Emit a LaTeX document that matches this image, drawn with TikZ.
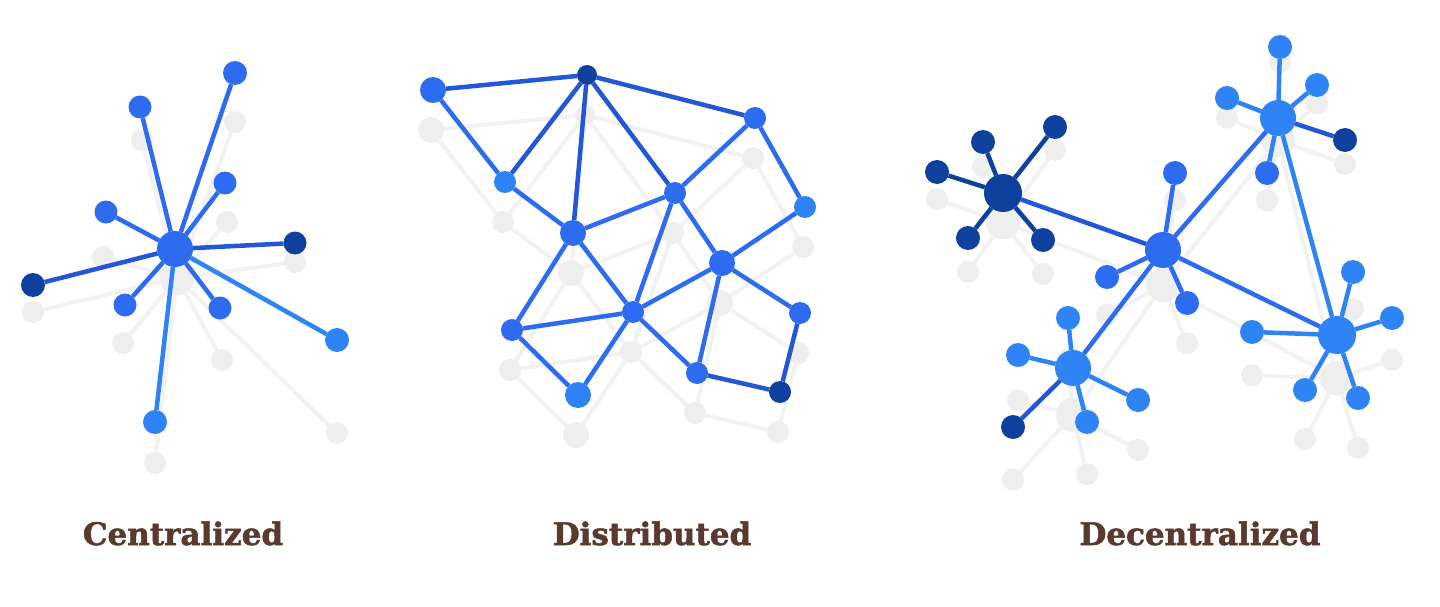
\documentclass[tikz,border=0pt]{standalone}
\usepackage{fontspec}
\newfontfamily\labelfont{DejaVu Serif}[BoldFeatures={FakeBold=1.6}]
\definecolor{bmain}{HTML}{2D6BF0}
\definecolor{blight}{HTML}{2F84F5}
\definecolor{bdark}{HTML}{0E419E}
\definecolor{emid}{HTML}{2258D6}
\definecolor{shnode}{HTML}{EEEEEE}
\definecolor{shline}{HTML}{F2F2F2}
\definecolor{txtbrown}{HTML}{5A3A2E}
\tikzset{
  dot/.style 2 args={circle, fill=#2, draw=none, minimum size=#1pt, inner sep=0pt, outer sep=0pt},
  sdot/.style={circle, fill=shnode, draw=none, minimum size=#1pt, inner sep=0pt, outer sep=0pt},
  edge/.style={line width=4.5pt, draw=#1},
  sedge/.style={line width=4pt, draw=shline},
  caption/.style={font=\labelfont\bfseries\fontsize{31}{34}\selectfont, text=txtbrown, anchor=base, inner sep=0pt}
}
\begin{document}
\begin{tikzpicture}[x=1pt,y=-1pt]
\useasboundingbox (0,0) rectangle (1440,607);
\fill[white] (0,0) rectangle (1440,607);

%% ================= CENTRALIZED =================
% shadows
\node[sdot=34] (sch) at (177,278) {};
\foreach \n/\x/\y/\d in {1/235/122/22, 2/142/140/22, 3/227/222/22, 4/103/257/22, 5/295/262/22,
  6/33/312/22, 7/123/343/22, 8/222/360/22, 9/337/433/22, 10/155/463/22}{
  \node[sdot=\d] (sc\n) at (\x,\y) {};
  \draw[sedge] (sch) -- (sc\n);
}
% main
\node[dot={36}{bmain}] (ch) at (175,249) {};
\foreach \n/\x/\y/\d/\c/\e in {1/235/73/24/bmain/bmain, 2/140/107/23/bmain/bmain, 3/225/183/23/bmain/bmain,
  4/106/212/23/bmain/bmain, 5/295/243/23/bdark/emid, 6/33/285/24/bdark/emid,
  7/125/305/23/bmain/bmain, 8/220/308/23/bmain/bmain, 9/337/340/24/blight/blight, 10/155/422/24/blight/blight}{
  \node[dot={\d}{\c}] (c\n) at (\x,\y) {};
  \draw[edge=\e] (ch) -- (c\n);
}
\node[caption] (lc) at (183,545) {Centralized};

%% ================= DISTRIBUTED =================
\foreach \n/\x/\y/\d in {A/433/90/26, B/587/75/20, C/755/118/22, D/505/182/22, E/675/193/22,
  F/805/207/22, G/573/233/26, H/722/263/26, I/800/313/22, J/633/312/22, K/512/330/22,
  L/697/373/22, M/578/395/26, N/780/392/22}{
  \node[sdot=\d] (s\n) at (\x-2,\y+40) {};
}
\foreach \a/\b in {A/B, A/D, B/D, B/G, B/E, B/C, C/E, C/F, D/G, G/E, G/K, G/J, E/J, E/H,
  F/H, H/J, H/L, H/I, J/K, J/L, K/M, M/J, I/N, L/N}{
  \draw[sedge] (s\a) -- (s\b);
}
\foreach \n/\x/\y/\d/\c in {A/433/90/26/bmain, B/587/75/20/bdark, C/755/118/22/bmain, D/505/182/22/blight,
  E/675/193/22/bmain, F/805/207/22/blight, G/573/233/26/bmain, H/722/263/26/bmain,
  I/800/313/22/bmain, J/633/312/22/bmain, K/512/330/22/bmain, L/697/373/22/bmain,
  M/578/395/26/blight, N/780/392/22/bdark}{
  \node[dot={\d}{\c}] (\n) at (\x,\y) {};
}
\foreach \a/\b/\e in {A/B/emid, A/D/bmain, B/D/emid, B/G/emid, B/E/emid, B/C/emid, C/E/bmain,
  C/F/bmain, D/G/bmain, G/E/bmain, G/K/bmain, G/J/bmain, E/J/bmain, E/H/bmain, F/H/bmain,
  H/J/bmain, H/L/bmain, H/I/bmain, J/K/bmain, J/L/bmain, K/M/bmain, M/J/bmain, I/N/emid, L/N/emid}{
  \draw[edge=\e] (\a) -- (\b);
}
\node[caption] (ld) at (652,545) {Distributed};

%% ================= DECENTRALIZED =================
% hubs: P (dark), Q (center), R (top), S (bottom left), T (right)
\foreach \n/\x/\y in {P/1003/193, Q/1163/250, R/1278/118, S/1073/368, T/1337/335}{
  \node[sdot=34] (s\n) at (\x,1.1*\y+10) {};
}
\foreach \n/\h/\x/\y in {p1/P/937/172, p2/P/983/142, p3/P/1055/127, p4/P/968/238, p5/P/1043/240,
  q1/Q/1175/173, q2/Q/1107/277, q3/Q/1187/303,
  r1/R/1280/47, r2/R/1227/98, r3/R/1317/85, r4/R/1345/140, r5/R/1267/173,
  s1/S/1068/318, s2/S/1018/355, s3/S/1138/400, s4/S/1087/422, s5/S/1013/427,
  t1/T/1353/272, t2/T/1392/318, t3/T/1252/332, t4/T/1305/390, t5/T/1358/398}{
  \node[sdot=22] (s\n) at (\x,1.1*\y+10) {};
  \draw[sedge] (s\h) -- (s\n);
}
\foreach \a/\b in {P/Q, Q/R, Q/S, Q/T, R/T}{
  \draw[sedge] (s\a) -- (s\b);
}
% main hubs
\node[dot={38}{bdark}] (P) at (1003,193) {};
\node[dot={36}{bmain}] (Q) at (1163,250) {};
\node[dot={36}{blight}] (R) at (1278,118) {};
\node[dot={36}{blight}] (S) at (1073,368) {};
\node[dot={38}{blight}] (T) at (1337,335) {};
\draw[edge=emid] (P) -- (Q);
\draw[edge=bmain] (Q) -- (R);
\draw[edge=bmain] (Q) -- (S);
\draw[edge=bmain] (Q) -- (T);
\draw[edge=blight] (R) -- (T);
\foreach \n/\h/\x/\y/\c/\e in {p1/P/937/172/bdark/bdark, p2/P/983/142/bdark/bdark, p3/P/1055/127/bdark/bdark,
  p4/P/968/238/bdark/bdark, p5/P/1043/240/bdark/bdark,
  q1/Q/1175/173/bmain/bmain, q2/Q/1107/277/bmain/bmain, q3/Q/1187/303/bmain/bmain,
  r1/R/1280/47/blight/blight, r2/R/1227/98/blight/blight, r3/R/1317/85/blight/blight,
  r4/R/1345/140/bdark/emid, r5/R/1267/173/bmain/blight,
  s1/S/1068/318/blight/blight, s2/S/1018/355/blight/blight, s3/S/1138/400/blight/blight,
  s4/S/1087/422/blight/blight, s5/S/1013/427/bdark/emid,
  t1/T/1353/272/blight/blight, t2/T/1392/318/blight/blight, t3/T/1252/332/blight/blight,
  t4/T/1305/390/blight/blight, t5/T/1358/398/blight/blight}{
  \node[dot={24}{\c}] (\n) at (\x,\y) {};
  \draw[edge=\e] (\h) -- (\n);
}
\node[caption] (lz) at (1200,545) {Decentralized};
\end{tikzpicture}
\end{document}
